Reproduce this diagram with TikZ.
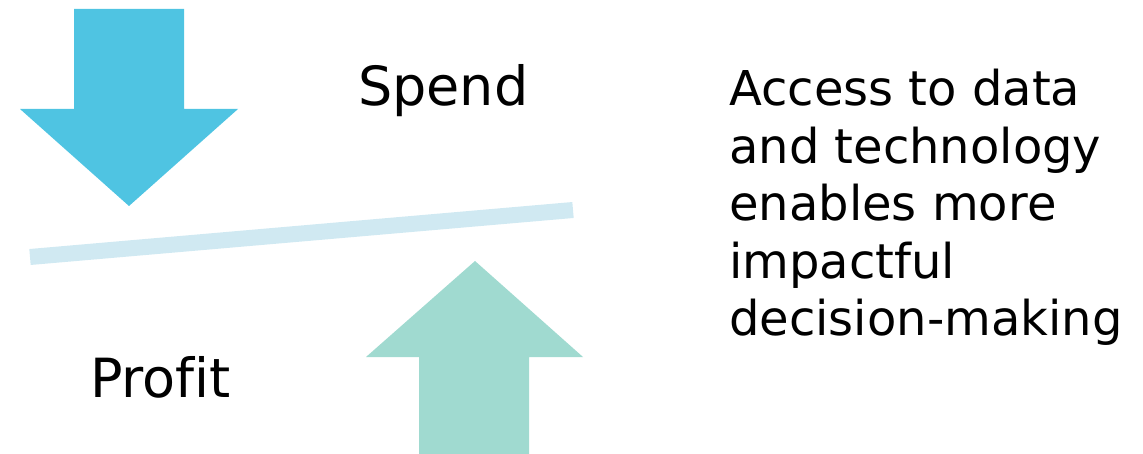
\documentclass[tikz,border=0pt]{standalone}
\usepackage{fontspec}
\setmainfont[Ligatures=NoCommon]{DejaVu Sans}
\definecolor{downblue}{RGB}{79,196,226}
\definecolor{upgreen}{RGB}{160,218,208}
\definecolor{barblue}{RGB}{208,233,242}
\tikzset{
  lbl/.style={inner sep=0pt, font=\fontsize{48}{57.5}\selectfont, text=black},
  biglbl/.style={inner sep=0pt, font=\fontsize{54}{60}\selectfont, text=black},
}
\begin{document}
\begin{tikzpicture}[x=1pt,y=-1pt]
\useasboundingbox (0,0) rectangle (1143,454);
% balance bar
\draw[barblue, line width=16pt] (30,257) -- (573,210);
% down arrow (spend)
\fill[downblue] (74,9) -- (184,9) -- (184,109) -- (238,109) -- (129,206) -- (20,109) -- (74,109) -- cycle;
% up arrow (profit)
\fill[upgreen] (475,261) -- (583,357) -- (529,357) -- (529,454) -- (419,454) -- (419,357) -- (366,357) -- cycle;
% labels
\node[biglbl, anchor=base west] (spend) at (358,106) {Spend};
\node[biglbl, anchor=base west] (profit) at (90,397) {Profit};
\node[lbl, anchor=north west, align=left] (note) at (729,69) {Access to data\\and technology\\enables more\\impactful\\decision-making};
\end{tikzpicture}
\end{document}
